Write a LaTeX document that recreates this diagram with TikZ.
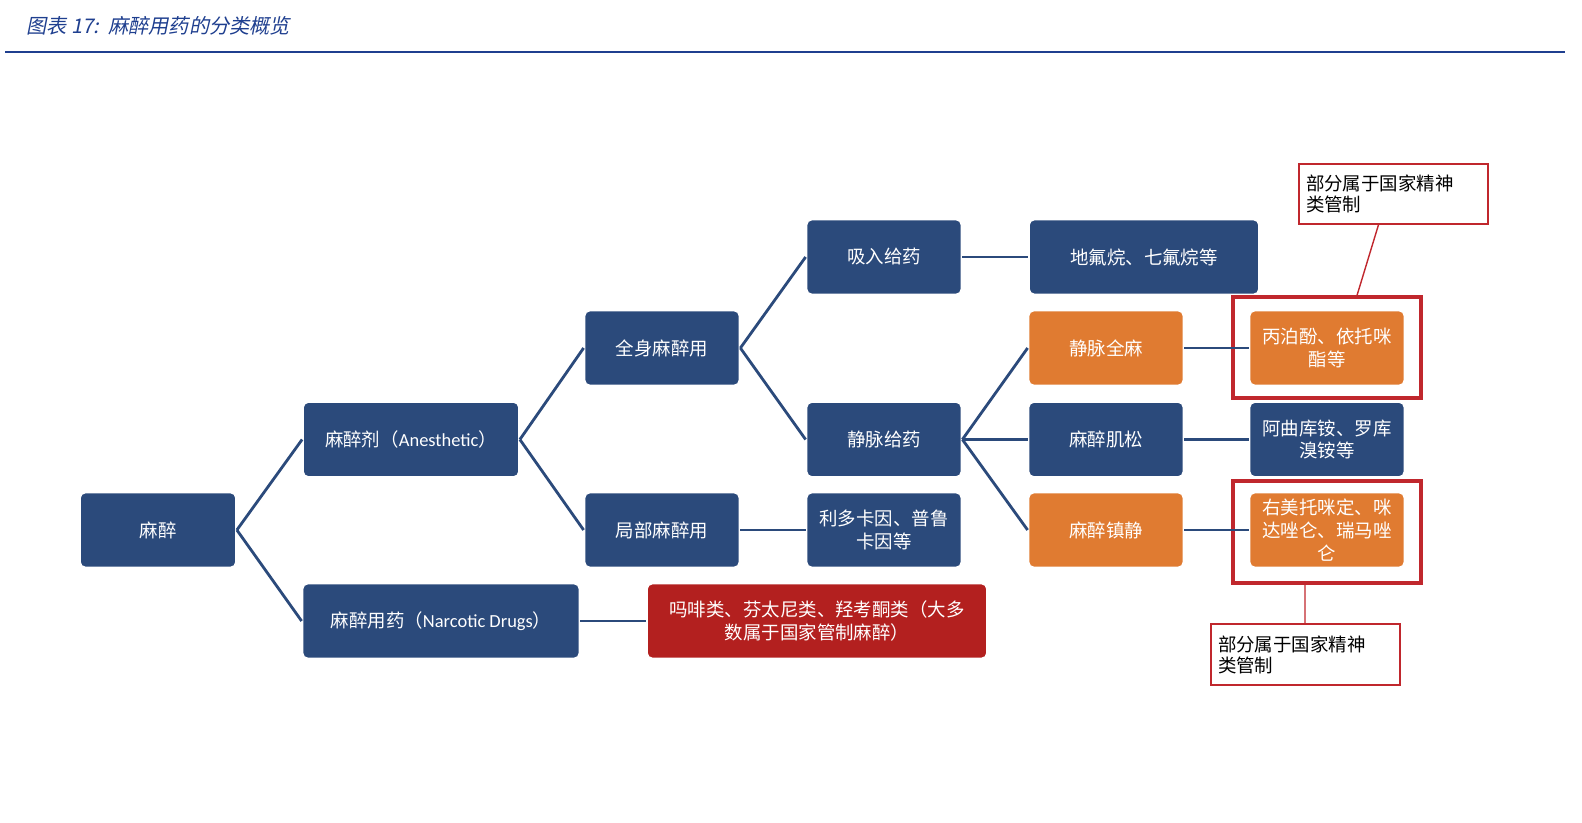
\documentclass[tikz,border=0pt]{standalone}
\usepackage{fontspec}
\setmainfont{Noto Sans CJK SC}
\newfontfamily\latinf{Carlito}
\newfontfamily\ttlfont[FakeSlant=0.2]{Noto Sans CJK SC}
\definecolor{navy}{HTML}{2B4A7B}
\definecolor{orng}{HTML}{E07B31}
\definecolor{dred}{HTML}{B3201F}
\definecolor{frame}{HTML}{C0272D}
\definecolor{ttl}{HTML}{1F3F8F}
\begin{document}
\begin{tikzpicture}[x=0.02cm,y=-0.02cm,
  box/.style={draw=white,line width=1pt,rounded corners=3pt,text=white,align=center,font=\fontsize{10.5}{13}\selectfont,inner sep=0pt},
  nb/.style={box,fill=navy},
  ob/.style={box,fill=orng},
  rb/.style={box,fill=dred},
  ln/.style={draw=navy,line width=1.6pt},
  call/.style={draw=frame,line width=0.8pt,fill=white,align=left,font=\fontsize{10.5}{12}\selectfont,inner sep=0pt}]
\useasboundingbox (0,0) rectangle (1582,822);
\node[anchor=west,text=ttl,font=\fontsize{11.5}{13}\selectfont\ttlfont] (title) at (20,26) {图表 17:\ \ 麻醉用药的分类概览};
\draw[ttl,line width=1.3pt] (5,52) -- (1565,52);
\newcommand{\bx}[5]{\node[#1,minimum width={(#4)*0.02cm},minimum height=1.5cm] (#2) at (#3) {#5};}
\bx{nb}{a}{158,530}{156}{麻醉}
\bx{nb}{b}{411,439.5}{216}{麻醉剂（{\latinf Anesthetic}）}
\bx{nb}{c}{441,621}{277}{麻醉用药（{\latinf Narcotic Drugs}）}
\bx{nb}{d}{662,348}{155}{全身麻醉用}
\bx{nb}{e}{662,530}{155}{局部麻醉用}
\bx{nb}{f}{884,257}{155}{吸入给药}
\bx{nb}{g}{884,439.5}{155}{静脉给药}
\bx{nb}{h}{884,530}{155}{利多卡因、普鲁\\卡因等}
\bx{rb}{i}{817,621}{340}{吗啡类、芬太尼类、羟考酮类（大多\\数属于国家管制麻醉）}
\bx{nb}{j}{1144,257}{230}{地氟烷、七氟烷等}
\bx{ob}{k}{1106,348}{155}{静脉全麻}
\bx{nb}{l}{1106,439.5}{155}{麻醉肌松}
\bx{ob}{m}{1106,530}{155}{麻醉镇静}
\bx{ob}{n}{1327,348}{155}{丙泊酚、依托咪\\酯等}
\bx{nb}{o}{1327,439.5}{155}{阿曲库铵、罗库\\溴铵等}
\bx{ob}{p}{1327,530}{155}{右美托咪定、咪\\达唑仑、瑞马唑\\仑}
\node[draw=frame,line width=1.8pt,minimum width=3.76cm,minimum height=2.02cm] (fr1) at (1327,347.5) {};
\node[draw=frame,line width=1.8pt,minimum width=3.76cm,minimum height=2.04cm] (fr2) at (1327,532) {};
\node[call,minimum width=3.78cm,minimum height=1.2cm,text width=3.5cm] (c1) at (1393.5,194) {部分属于国家精神\\类管制};
\node[call,minimum width=3.78cm,minimum height=1.22cm,text width=3.5cm] (c2) at (1305.5,654.5) {部分属于国家精神\\类管制};
\draw[frame,line width=0.8pt] ([xshift=-0.3cm]c1.south) -- ([xshift=0.6cm]fr1.north);
\draw[frame,line width=0.8pt] ([xshift=-0.44cm]fr2.south) -- ([xshift=-0.01cm]c2.north);
\draw[ln] (a.east) -- (b.west); \draw[ln] (a.east) -- (c.west);
\draw[ln] (b.east) -- (d.west); \draw[ln] (b.east) -- (e.west);
\draw[ln] (c.east) -- (i.west);
\draw[ln] (d.east) -- (f.west); \draw[ln] (d.east) -- (g.west);
\draw[ln] (e.east) -- (h.west);
\draw[ln] (f.east) -- (j.west);
\draw[ln] (g.east) -- (k.west); \draw[ln] (g.east) -- (l.west); \draw[ln] (g.east) -- (m.west);
\draw[ln] (k.east) -- (n.west); \draw[ln] (l.east) -- (o.west); \draw[ln] (m.east) -- (p.west);
\end{tikzpicture}
\end{document}
